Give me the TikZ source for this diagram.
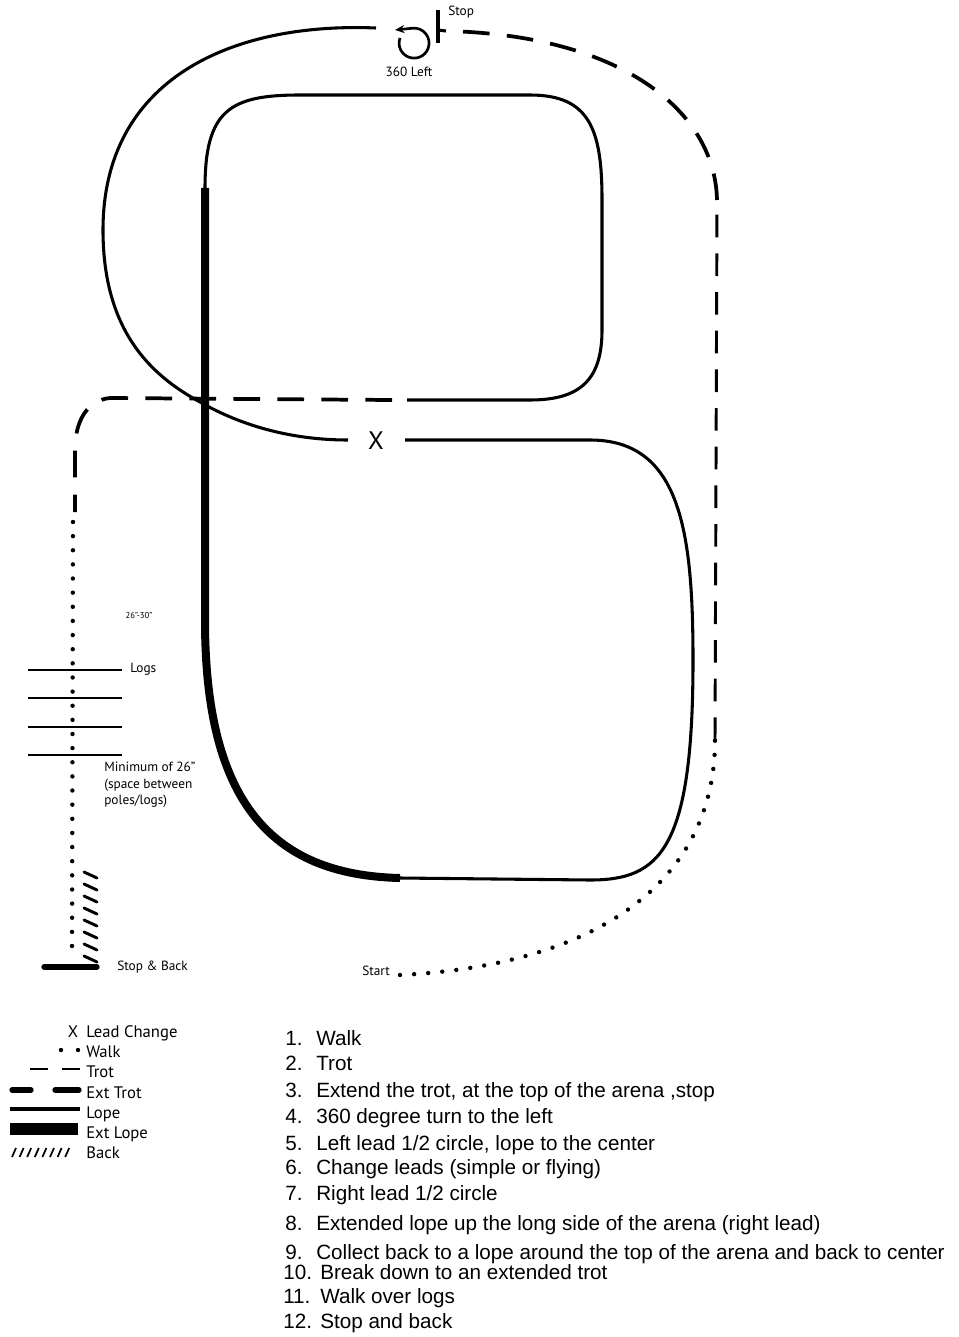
\documentclass[tikz,border=0pt]{standalone}
\usepackage{fontspec}
\setmainfont{PT Sans}
\newfontfamily\listfont{Liberation Sans}
\usetikzlibrary{arrows.meta}
\begin{document}
\begin{tikzpicture}[x=0.75pt,y=-0.75pt,
  lope/.style={line width=2.3pt,line join=round},
  extlope/.style={line width=6pt},
  trot/.style={line width=2.2pt,dash pattern=on 17pt off 12pt},
  exttrot/.style={line width=2.8pt,dash pattern=on 20pt off 13pt},
  walk/.style={line width=3.3pt,line cap=round,dash pattern=on 0pt off 10.6pt},
  logline/.style={line width=1.7pt},
  hatch/.style={line width=2.2pt,line cap=round},
  lbl/.style={font=\fontsize{10}{12}\selectfont,inner sep=0pt,anchor=base west},
  leg/.style={font=\fontsize{12.5}{14}\selectfont,inner sep=0pt,anchor=base west},
  item/.style={font=\listfont\fontsize{15.5}{18}\selectfont,inner sep=0pt,anchor=base west}]
\useasboundingbox (0,0) rectangle (958,1337);
\fill[white] (0,0) rectangle (958,1337);

% key points
\coordinate (start) at (400,975);
\coordinate (rwalk) at (715,740);
\coordinate (rtop) at (717,200);
\coordinate (stopE) at (446,31);
\coordinate (lopeA) at (376,28);
\coordinate (xL) at (348,440);
\coordinate (xR) at (405,440);
\coordinate (botL) at (400,878);
\coordinate (inTop) at (205,188);
\coordinate (inEnd) at (407,400);
\coordinate (etA) at (392,400);
\coordinate (etB) at (75,512);
\coordinate (wA) at (73,522);
\coordinate (wB) at (72,955);

% walk from start
\draw[walk] (start) .. controls (600,965) and (715,880) .. (rwalk);
% trot up right side
\draw[trot] (rwalk) -- (rtop);
% extended trot across top
\draw[exttrot] (rtop) .. controls (715,110) and (620,35) .. (stopE);
% stop
\draw[line width=2.3pt] (438,10) -- (438,43);
\draw[line width=2.3pt] (438,30) -- (stopE);
\node[lbl] (stoplbl) at (448,16) {Stop};
% 360 left
\draw[line width=2pt,-{Stealth[length=7pt,width=6pt]}] (400,38) arc[start angle=200,end angle=-95,radius=15] -- (395,30);
\node[lbl,anchor=base] (turn) at (409,77) {360 Left};

% left lead half circle to centre
\draw[lope] (lopeA) .. controls (230,22) and (103,80) .. (103,230)
  .. controls (103,330) and (150,375) .. (200,402)
  .. controls (240,425) and (290,440) .. (xL);
\node[font=\fontsize{19}{20}\selectfont,inner sep=0pt] (X) at (376,441) {X};
% right lead half circle
\draw[lope] (xR) -- (590,440) .. controls (680,440) and (693,530) .. (693,660)
  .. controls (693,850) and (660,880) .. (590,880) -- (botL);
% extended lope
\draw[extlope] (botL) .. controls (270,875) and (205,800) .. (205,620) -- (inTop);
% lope around top and back to centre
\draw[lope] (inTop) .. controls (205,110) and (230,95) .. (300,95) -- (530,95)
  .. controls (590,95) and (602,130) .. (602,200) -- (602,330)
  .. controls (602,380) and (580,400) .. (530,400) -- (inEnd);
% extended trot to logs
\draw[exttrot] (etA) -- (110,398) .. controls (88,400) and (75,420) .. (75,450) -- (etB);
% walk over logs
\draw[walk] (wA) -- (wB);
\foreach \y in {670,698,727,755} \draw[logline] (28,\y) -- (122,\y);
\node[font=\fontsize{6.5}{8}\selectfont,inner sep=0pt] (gap) at (139,615) {26"-30"};
\node[lbl] (logs) at (130,672) {Logs};
\node[lbl,align=left,anchor=north west,font=\fontsize{10}{12.4}\selectfont] (minimum) at (104,762) {Minimum of 26"\\(space between\\poles/logs)};
% back
\foreach \k in {0,...,7} \draw[hatch] (84,872+12*\k) -- (97,878+12*\k);
\draw[line width=4pt,line cap=round] (44,967) -- (97,967);
\node[lbl] (stopback) at (117,970) {Stop \& Back};
\node[lbl] (startlbl) at (362,975) {Start};

% legend
\node[leg,anchor=base] (legX) at (73,1037) {X};
\node[leg] (l1) at (86,1037) {Lead Change};
\fill (61,1050) circle (2.2);
\fill (78,1050) circle (2.2);
\node[leg] (l2) at (86,1057) {Walk};
\draw[line width=1.8pt] (30,1069) -- (48,1069) (62,1069) -- (80,1069);
\node[leg] (l3) at (86,1077) {Trot};
\draw[line width=4pt,line cap=round] (12,1090) -- (31,1090) (55,1090) -- (79,1090);
\node[leg] (l4) at (86,1098) {Ext Trot};
\draw[line width=3pt] (10,1109) -- (80,1109);
\node[leg] (l5) at (86,1118) {Lope};
\fill (10,1123) rectangle (78,1135);
\node[leg] (l6) at (86,1138) {Ext Lope};
\foreach \k in {0,...,7} \draw[line width=1.3pt] (12+7.6*\k,1157) -- (16+7.6*\k,1148);
\node[leg] (l7) at (86,1158) {Back};

% steps
\node[item] (n1) at (285,1045) {1.};  \node[item] (t1) at (316,1045) {Walk};
\node[item] (n2) at (285,1070) {2.};  \node[item] (t2) at (316,1070) {Trot};
\node[item] (n3) at (285,1097) {3.};  \node[item] (t3) at (316,1097) {Extend the trot, at the top of the arena ,stop};
\node[item] (n4) at (285,1123) {4.};  \node[item] (t4) at (316,1123) {360 degree turn to the left};
\node[item] (n5) at (285,1150) {5.};  \node[item] (t5) at (316,1150) {Left lead 1/2 circle, lope to the center};
\node[item] (n6) at (285,1174) {6.};  \node[item] (t6) at (316,1174) {Change leads (simple or flying)};
\node[item] (n7) at (285,1200) {7.};  \node[item] (t7) at (316,1200) {Right lead 1/2 circle};
\node[item] (n8) at (285,1230) {8.};  \node[item] (t8) at (316,1230) {Extended lope up the long side of the arena (right lead)};
\node[item] (n9) at (285,1259) {9.};  \node[item] (t9) at (316,1259) {Collect back to a lope around the top of the arena and back to center};
\node[item] (n10) at (283,1279) {10.}; \node[item] (t10) at (320,1279) {Break down to an extended trot};
\node[item] (n11) at (283,1303) {11.}; \node[item] (t11) at (320,1303) {Walk over logs};
\node[item] (n12) at (283,1328) {12.}; \node[item] (t12) at (320,1328) {Stop and back};
\end{tikzpicture}
\end{document}
